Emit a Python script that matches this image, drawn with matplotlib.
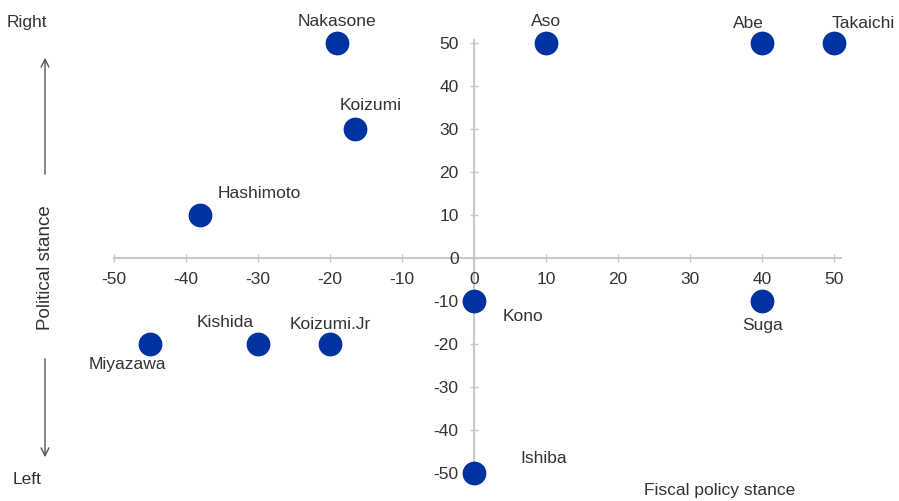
import matplotlib.pyplot as plt
import matplotlib.patches as mpatches
import numpy as np

plt.rcParams['font.family'] = ['Liberation Sans', 'DejaVu Sans']
plt.rcParams['axes.unicode_minus'] = False

# positions of each leader: fiscal stance (x) vs political stance (y)
names = ['Nakasone', 'Aso', 'Abe', 'Takaichi', 'Koizumi', 'Hashimoto',
         'Miyazawa', 'Kishida', 'Koizumi.Jr', 'Kono', 'Suga', 'Ishiba']
fiscal = [-19, 10, 40, 50, -16.5, -38, -45, -30, -20, 0, 40, 0]
political = [50, 50, 50, 50, 30, 10, -20, -20, -20, -10, -10, -50]

# label offsets in pixels (dx, dy) and alignment
offsets = {
    'Nakasone': (0, 22, 'center'),
    'Aso': (0, 22, 'center'),
    'Abe': (-13, 20, 'center'),
    'Takaichi': (-2, 20, 'left'),
    'Koizumi': (15, 24, 'center'),
    'Hashimoto': (17, 22, 'left'),
    'Miyazawa': (-23, -21, 'center'),
    'Kishida': (-33, 21, 'center'),
    'Koizumi.Jr': (0, 19, 'center'),
    'Kono': (49, -16, 'center'),
    'Suga': (1, -25, 'center'),
    'Ishiba': (70, 14, 'center'),
}

fig = plt.figure(figsize=(8.99, 5.01), dpi=100)
ax = fig.add_axes([114 / 899, 25 / 501, 727 / 899, 436 / 501])

dot_color = '#0033A0'
axis_color = '#c8c8c8'
text_color = '#333333'
fs = 12.5

ax.scatter(fiscal, political, s=260, color=dot_color, zorder=3, clip_on=False)

for n, x, y in zip(names, fiscal, political):
    dx, dy, ha = offsets[n]
    ax.annotate(n, (x, y), xytext=(dx, dy), textcoords='offset pixels',
                ha=ha, va='center', fontsize=fs, color=text_color)

ax.set_xlim(-50, 51)
ax.set_ylim(-50.7, 50.7)
ax.set_xticks(np.arange(-50, 51, 10))
ax.set_yticks(np.arange(-50, 51, 10))

ax.spines['left'].set_position(('data', 0))
ax.spines['bottom'].set_position(('data', 0))
ax.spines['top'].set_visible(False)
ax.spines['right'].set_visible(False)
for s in ['left', 'bottom']:
    ax.spines[s].set_color(axis_color)
    ax.spines[s].set_linewidth(1.5)
    ax.spines[s].set_zorder(1)

ax.tick_params(axis='both', direction='inout', length=6, width=1,
               color=axis_color, labelsize=fs, labelcolor=text_color)
ax.tick_params(axis='x', pad=7)
ax.tick_params(axis='y', pad=8)
ax.set_facecolor('none')

# side annotations
fig.text(7 / 899, 1 - 23 / 501, 'Right', fontsize=fs, color=text_color,
         ha='left', va='center')
fig.text(13 / 899, 1 - 480 / 501, 'Left', fontsize=fs, color=text_color,
         ha='left', va='center')
fig.text(45 / 899, 1 - 268 / 501, 'Political stance', fontsize=13.5,
         color=text_color, rotation=90, ha='center', va='center')
fig.text(720 / 899, 1 - 490 / 501, 'Fiscal policy stance', fontsize=fs,
         color=text_color, ha='center', va='center')

arrow_kw = dict(arrowstyle='->', color='#555555', lw=1, mutation_scale=14)
fig.patches.append(mpatches.FancyArrowPatch(
    (45 / 899, 1 - 177 / 501), (45 / 899, 1 - 55 / 501),
    transform=fig.transFigure, **arrow_kw))
fig.patches.append(mpatches.FancyArrowPatch(
    (45 / 899, 1 - 356 / 501), (45 / 899, 1 - 460 / 501),
    transform=fig.transFigure, **arrow_kw))

fig.savefig('out.png', dpi=100, facecolor='white')
